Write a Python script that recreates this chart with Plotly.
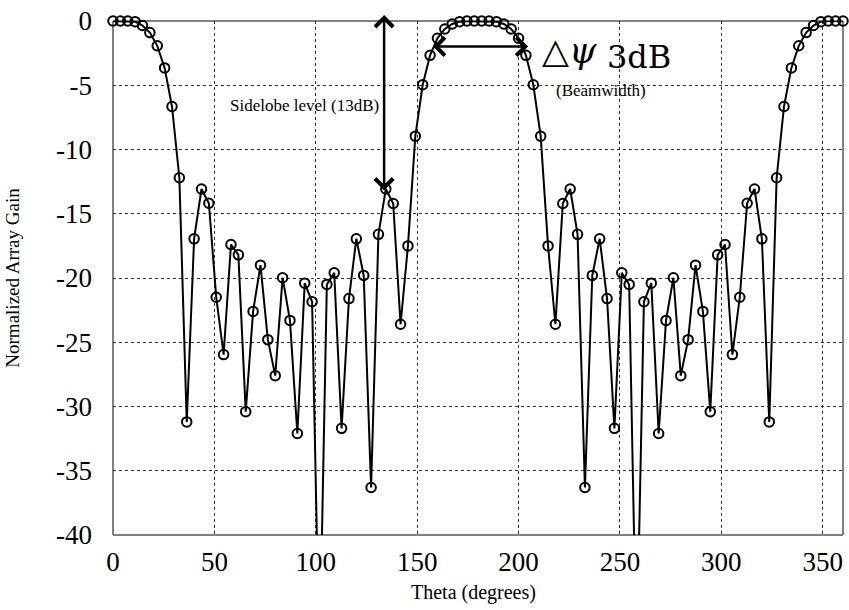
import numpy as np
import plotly.graph_objects as go

# Sample angles: 100 equally spaced samples over 0..360 degrees
theta_start = 0.0
theta_stop = 360.0
n_samples = 100
theta = np.linspace(theta_start, theta_stop, n_samples)

# Normalized array gain (dB)
gain_db = [
    0.0, 0.0, 0.0, -0.05, -0.35, -0.9, -1.93, -3.65, -6.65, -12.2,
    -31.2, -16.95, -13.07, -14.18, -21.5, -25.96, -17.39, -18.2, -30.4, -22.6,
    -19.0, -24.8, -27.6, -19.98, -23.3, -32.1, -20.4, -21.85, -50.0, -20.5,
    -19.6, -31.7, -21.6, -16.95, -19.8, -36.3, -16.6, -13.07, -14.2, -23.6,
    -17.5, -8.96, -4.96, -2.67, -1.34, -0.62, -0.23, -0.05, 0.0, 0.0,
    0.0, 0.0, -0.05, -0.23, -0.62, -1.34, -2.67, -4.96, -8.96, -17.5,
    -23.6, -14.2, -13.07, -16.6, -36.3, -19.8, -16.95, -21.6, -31.7, -19.6,
    -20.5, -50.0, -21.85, -20.4, -32.1, -23.3, -19.98, -27.6, -24.8, -19.0,
    -22.6, -30.4, -18.2, -17.39, -25.96, -21.5, -14.18, -13.07, -16.95, -31.2,
    -12.2, -6.65, -3.65, -1.93, -0.9, -0.35, -0.05, 0.0, 0.0, 0.0,
]

x_ticks = [0, 50, 100, 150, 200, 250, 300, 350]
y_ticks = [0, -5, -10, -15, -20, -25, -30, -35, -40]
x_range = [0, 360]
y_range = [-40, 0]

SERIF = "Liberation Serif, Times New Roman, serif"

# markers only where the point lies inside the visible range
marker_y = [v if v >= y_range[0] else None for v in gain_db]

fig = go.Figure()
fig.add_trace(go.Scatter(
    x=theta, y=gain_db, mode="lines",
    line=dict(color="black", width=2),
    showlegend=False, hoverinfo="skip",
))
fig.add_trace(go.Scatter(
    x=theta, y=marker_y, mode="markers",
    marker=dict(symbol="circle-open", size=9.5, color="black",
                line=dict(color="black", width=2)),
    cliponaxis=False, showlegend=False,
))

fig.update_xaxes(
    range=x_range, tickvals=x_ticks, ticktext=[str(t) for t in x_ticks],
    showgrid=True, gridcolor="#333333", gridwidth=1, griddash="dot",
    zeroline=False, showline=False, ticks="",
    tickfont=dict(family=SERIF, size=27, color="black"),
    ticklabelstandoff=8,
)
fig.update_yaxes(
    range=y_range, tickvals=y_ticks, ticktext=[str(t) for t in y_ticks],
    showgrid=True, gridcolor="#333333", gridwidth=1, griddash="dot",
    zeroline=False, showline=False, ticks="",
    tickfont=dict(family=SERIF, size=27, color="black"),
    ticklabelstandoff=20,
)

shapes = [
    dict(type="line", xref="paper", yref="paper", x0=0, x1=0, y0=0, y1=1,
         line=dict(color="black", width=1), layer="below"),
    dict(type="line", xref="paper", yref="paper", x0=0, x1=1, y0=1, y1=1,
         line=dict(color="black", width=1), layer="below"),
    dict(type="line", xref="paper", yref="paper", x0=0, x1=1, y0=0, y1=0,
         line=dict(color="#808080", width=2), layer="below"),
    dict(type="line", xref="paper", yref="paper", x0=1, x1=1, y0=0, y1=1,
         line=dict(color="#808080", width=2), layer="below"),
]

annotations = [
    # vertical double arrow: sidelobe level
    dict(x=133.7, y=0.46, ax=133.7, ay=-13.3, xref="x", yref="y",
         axref="x", ayref="y", text="", showarrow=True,
         arrowhead=4, startarrowhead=4, arrowside="end+start",
         arrowwidth=2.5, arrowsize=1.4, startarrowsize=1.4, arrowcolor="black"),
    # horizontal double arrow: beamwidth
    dict(x=204.7, y=-1.98, ax=157.1, ay=-1.98, xref="x", yref="y",
         axref="x", ayref="y", text="", showarrow=True,
         arrowhead=4, startarrowhead=4, arrowside="end+start",
         arrowwidth=2.5, arrowsize=1.4, startarrowsize=1.4, arrowcolor="black"),
    dict(x=94.6, y=-6.55, xref="x", yref="y", text="Sidelobe level (13dB)",
         showarrow=False, font=dict(family=SERIF, size=17, color="black")),
    dict(x=210.8, y=-2.3, xref="x", yref="y", text="△<i>ψ</i>",
         xanchor="left", showarrow=False,
         font=dict(family="DejaVu Serif", size=35, color="black")),
    dict(x=242.8, y=-2.77, xref="x", yref="y", text="3dB",
         xanchor="left", showarrow=False,
         font=dict(family="DejaVu Serif", size=32, color="black")),
    dict(x=240.6, y=-5.4, xref="x", yref="y", text="(Beamwidth)",
         showarrow=False, font=dict(family=SERIF, size=17, color="black")),
    dict(x=0.494, y=-0.1118, xref="paper", yref="paper", text="Theta (degrees)",
         xanchor="center", yanchor="middle",
         showarrow=False, font=dict(family=SERIF, size=20, color="black")),
    dict(x=-0.1388, y=0.5, xref="paper", yref="paper", text="Normalized Array Gain",
         xanchor="center", yanchor="middle",
         textangle=-90, showarrow=False,
         font=dict(family=SERIF, size=19, color="black")),
]

fig.update_layout(
    width=849, height=610,
    margin=dict(l=113, r=6, t=16, b=75),
    paper_bgcolor="white", plot_bgcolor="white",
    shapes=shapes, annotations=annotations,
    showlegend=False,
)

fig.write_html("out.html")
